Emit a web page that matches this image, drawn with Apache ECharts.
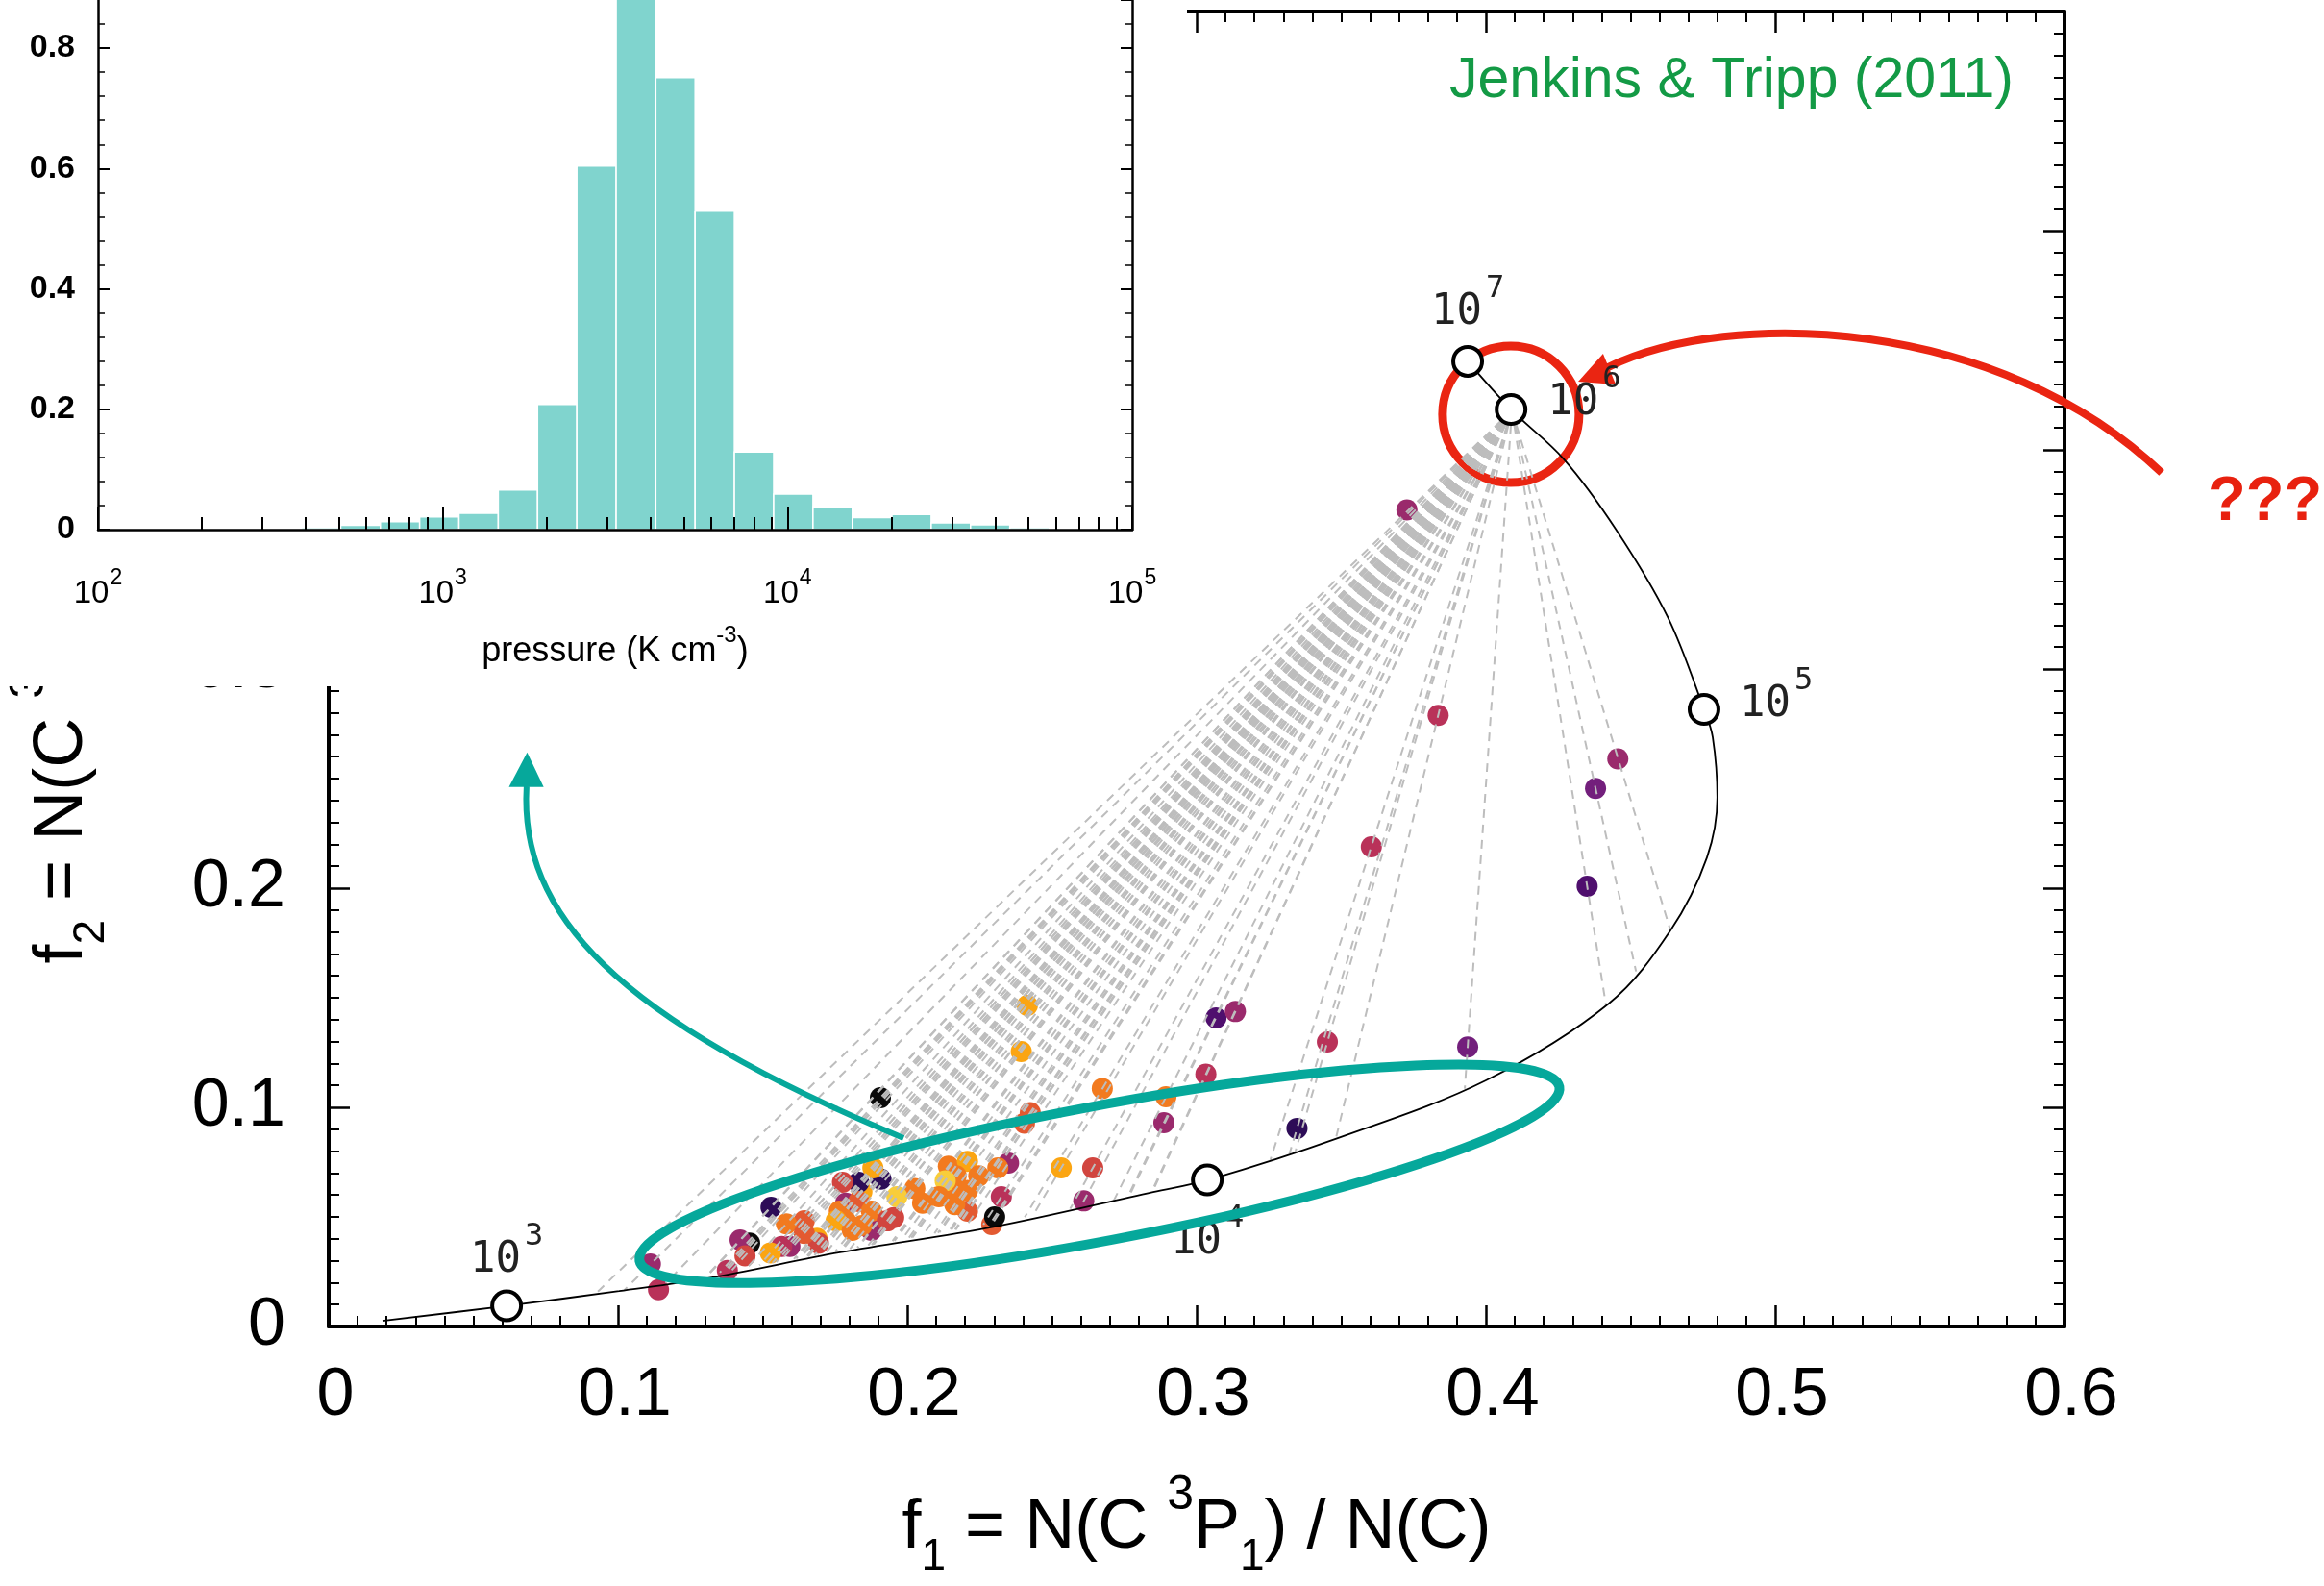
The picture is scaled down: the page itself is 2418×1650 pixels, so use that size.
<!DOCTYPE html>
<html><head><meta charset="utf-8">
<script src="https://cdn.jsdelivr.net/npm/echarts@6/dist/echarts.min.js"></script>
<style>html,body{margin:0;padding:0;background:#fff}#c{width:2418px;height:1650px}</style>
</head><body><div id="c"></div>
<script>
// ---------------- DATA ----------------
// Observed sight lines: f1, f2, colour class, end of mixing line on the model track
const pointsF1 = [0.3727,0.3835,0.4456,0.4379,0.3604,0.4350,0.3067,0.3134,0.3452,0.3937,0.3032,0.2674,0.2894,0.2887,0.3347,0.2415,0.2394,0.2425,0.2405,0.2532,0.2641,0.2350,0.2325,0.2610,0.2292,0.2302,0.1907,0.2208,0.2164,0.2142,0.2208,0.2313,0.2247,0.2169,0.2153,0.2208,0.2131,0.2109,0.2053,0.2026,0.1964,0.1953,0.1887,0.1876,0.1843,0.1909,0.1832,0.1881,0.1776,0.1787,0.1832,0.1765,0.1787,0.1754,0.1810,0.1843,0.1876,0.1931,0.1644,0.1582,0.1688,0.1693,0.1644,0.1594,0.1566,0.1527,0.1529,0.1455,0.1422,0.1439,0.1378,0.1112,0.1140];
const pointsF2 = [0.3726,0.2788,0.2590,0.2455,0.2189,0.2009,0.1408,0.1437,0.1298,0.1275,0.1151,0.1086,0.1048,0.0930,0.0904,0.1465,0.1254,0.0976,0.0928,0.0724,0.0724,0.0746,0.0592,0.0573,0.0465,0.0500,0.1044,0.0526,0.0556,0.0731,0.0753,0.0724,0.0687,0.0687,0.0600,0.0621,0.0665,0.0592,0.0563,0.0629,0.0592,0.0497,0.0497,0.0439,0.0614,0.0672,0.0658,0.0724,0.0658,0.0563,0.0570,0.0526,0.0482,0.0482,0.0439,0.0461,0.0526,0.0482,0.0482,0.0468,0.0402,0.0380,0.0424,0.0365,0.0365,0.0336,0.0544,0.0380,0.0395,0.0322,0.0256,0.0285,0.0168];
const pointClass = [4,5,4,3,5,2,2,4,5,3,5,8,8,4,1,9,9,7,7,9,6,4,5,4,7,0,0,7,8,8,9,8,8,8,8,8,10,8,8,8,10,6,7,4,9,1,1,9,6,4,7,8,8,9,8,8,8,6,7,8,9,6,7,4,5,9,1,0,4,6,5,4,5];
const lineEndF1 = [0.0920,0.3481,0.4638,0.4519,0.3255,0.4415,0.2765,0.2847,0.3341,0.3927,0.2844,0.2406,0.2713,0.2759,0.3321,0.1717,0.1884,0.2145,0.2151,0.2434,0.2563,0.2200,0.2263,0.2599,0.2296,0.2288,0.1352,0.2165,0.2094,0.1949,0.2018,0.2168,0.2111,0.2014,0.2053,0.2106,0.1982,0.2005,0.1956,0.1877,0.1827,0.1881,0.1802,0.1830,0.1658,0.1696,0.1608,0.1616,0.1534,0.1628,0.1679,0.1629,0.1691,0.1651,0.1751,0.1775,0.1767,0.1865,0.1514,0.1448,0.1632,0.1655,0.1561,0.1547,0.1513,0.1489,0.1313,0.1364,0.1310,0.1394,0.1375,0.1022,0.1165];
const lineEndF2 = [0.0146,0.0856,0.1807,0.1620,0.0760,0.1466,0.0590,0.0613,0.0796,0.1085,0.0612,0.0499,0.0573,0.0584,0.0788,0.0334,0.0374,0.0437,0.0438,0.0506,0.0537,0.0450,0.0465,0.0546,0.0473,0.0471,0.0246,0.0442,0.0425,0.0390,0.0406,0.0442,0.0429,0.0405,0.0415,0.0427,0.0398,0.0403,0.0391,0.0372,0.0360,0.0373,0.0354,0.0361,0.0320,0.0329,0.0308,0.0310,0.0290,0.0313,0.0325,0.0313,0.0328,0.0318,0.0342,0.0348,0.0346,0.0370,0.0285,0.0270,0.0314,0.0319,0.0297,0.0293,0.0285,0.0279,0.0237,0.0249,0.0236,0.0257,0.0252,0.0166,0.0197];
// high-pressure apex of the mixing lines (10^6)
const apexF1 = 0.409, apexF2 = 0.418;
// model track (low -> high pressure)
const trackF1 = [0.0186,0.0615,0.1004,0.131,0.1767,0.2302,0.285,0.3037,0.349,0.400,0.4425,0.4638,0.4764,0.480,0.4784,0.4754,0.463,0.445,0.4269,0.409,0.3937];
const trackF2 = [0.0026,0.0094,0.0162,0.022,0.0338,0.0456,0.0614,0.0667,0.086,0.1123,0.1474,0.1807,0.214,0.2414,0.2689,0.2816,0.3233,0.3636,0.3958,0.418,0.4404];
// pressure markers on the track
const markF1 = [0.0615,0.3037,0.4754,0.4087,0.3937];
const markF2 = [0.0094,0.0669,0.2816,0.4184,0.4404];
const markExp = ['3','4','5','6','7'];
// inset histogram (log10 pressure bin edges, frequency)
const histEdges = [2.020,2.134,2.248,2.362,2.476,2.590,2.704,2.819,2.933,3.047,3.161,3.275,3.389,3.503,3.618,3.732,3.846,3.960,4.074,4.188,4.303,4.417,4.531,4.645,4.760,4.874];
const histFreq  = [0.002,0,0,0,0,0.003,0.007,0.013,0.021,0.027,0.066,0.208,0.604,0.97,0.751,0.529,0.129,0.059,0.038,0.020,0.025,0.011,0.008,0.003,0.002];
const insetMinorP = [200,300,400,500,600,700,800,900,2000,3000,4000,5000,6000,7000,8000,9000,20000,30000,40000,50000,60000,70000,80000,90000];
const insetMinorFreq = [0.04,0.08,0.12,0.16,0.24,0.28,0.32,0.36,0.44,0.48,0.52,0.56,0.64,0.68,0.72,0.76,0.84];
// annotations (data-space anchors)
const ellipseCenter = [0.2664,0.0697];
const tealArrow = [[0.1987,0.0860],[0.0990,0.1404],[0.0658,0.1886],[0.0684,0.2465],[0.0686,0.2620],[0.0623,0.2462],[0.0743,0.2462]];
const redArrow = [[0.4422,0.4377],[0.4844,0.4649],[0.5774,0.4605],[0.6336,0.3895],[0.4319,0.4311],[0.4405,0.4439],[0.4449,0.4298]];
const redRingCenter = [0.4086,0.4162];

// ---------------- STYLE ----------------
const palette = ['#0a0a0a','#2d0c57','#4f0f6e','#731f7c','#9a2a6c','#b93259','#d1453f','#e35a31','#f27a1f','#fba512','#f8cd3a'];
const TEAL = '#06a89b', RED = '#ea2512';
const F = 'Liberation Sans';
const titleRich = {
  n:{fontSize:72,fontFamily:F,color:'#000',padding:[0,0,17,0],verticalAlign:'bottom'},
  sub:{fontSize:46,fontFamily:F,color:'#000',verticalAlign:'bottom'},
  sup:{fontSize:50,fontFamily:F,color:'#000',padding:[0,0,62,0],verticalAlign:'bottom'}
};
const markRich = {
  a:{fontSize:44,fontFamily:'DejaVu Sans Mono',color:'#222',verticalAlign:'bottom'},
  s:{fontSize:32,fontFamily:'DejaVu Sans Mono',color:'#222',padding:[0,0,31,4],verticalAlign:'bottom'}
};
const markLabelPos = [
  {position:'top',distance:8},
  {position:'bottom',distance:7},
  {position:'right',distance:20,offset:[0,-14]},
  {position:'right',distance:21,offset:[0,-16]},
  {position:'top',distance:11}
];
function mainAxis(extra){
  return Object.assign({
    gridIndex:0,type:'value',min:0,max:0.6,interval:0.1,z:1,
    axisLine:{onZero:false,lineStyle:{color:'#000',width:4}},
    axisTick:{inside:true,length:22,lineStyle:{color:'#000',width:2.5}},
    minorTick:{show:true,splitNumber:10,length:11,lineStyle:{color:'#000',width:2}},
    splitLine:{show:false},minorSplitLine:{show:false}
  },extra);
}
function insetY(extra){
  return Object.assign({gridIndex:1,type:'value',min:0,max:0.88,interval:0.2,z:10,
    axisLine:{onZero:false,lineStyle:{color:'#000',width:2.5}},
    axisTick:{inside:true,length:12,lineStyle:{color:'#000',width:2}},
    splitLine:{show:false}},extra);
}
function insetYMinor(pos){
  return {gridIndex:1,type:'value',min:0,max:0.88,position:pos,z:10,
    axisLine:{show:false,onZero:false},axisLabel:{show:false},splitLine:{show:false},
    axisTick:{inside:true,length:7,lineStyle:{color:'#000',width:1.5},customValues:insetMinorFreq}};
}

const chart = echarts.init(document.getElementById('c'),null,{renderer:'canvas'});
const option = {
  animation:false,
  textStyle:{fontFamily:F},
  title:[
    {text:'Jenkins & Tripp (2011)',right:323,top:55,padding:0,textStyle:{color:'#139a45',fontSize:59,fontWeight:'normal',fontFamily:F}},
    {text:'???',left:2297,top:491,padding:0,textStyle:{color:'#e8210f',fontSize:65,fontWeight:'bold',fontFamily:"'Liberation Sans Narrow','Liberation Sans'"}}
  ],
  graphic:{elements:[{type:'rect',shape:{x:0,y:0,width:1235,height:714},style:{fill:'#fff'},z:8,silent:true}]},
  grid:[
    {left:342,top:12,width:1806,height:1368,outerBoundsMode:'none'},
    {left:102,top:0,width:1076,height:551,outerBoundsMode:'none'}
  ],
  xAxis:[
    mainAxis({position:'bottom',
      axisLabel:{fontSize:70,color:'#000',margin:38,padding:[0,0,0,14]},
      name:'{n|f}{sub|1}{n| = N(C }{sup|3}{n|P}{sub|1}{n|) / N(C)}',
      nameLocation:'middle',nameGap:151,nameTextStyle:{rich:titleRich}}),
    mainAxis({position:'top',axisLabel:{show:false}}),
    {gridIndex:1,type:'value',min:2,max:5,interval:1,position:'bottom',z:10,
      axisLine:{onZero:false,lineStyle:{color:'#000',width:2.5}},
      axisTick:{inside:true,length:24,lineStyle:{color:'#000',width:2}},
      splitLine:{show:false},
      axisLabel:{margin:39,formatter:v=>'{a|10}{s|'+v+'}',
        rich:{a:{fontSize:33,fontFamily:F,color:'#000',verticalAlign:'bottom'},
              s:{fontSize:23,fontFamily:F,color:'#000',padding:[0,0,21,1],verticalAlign:'bottom'}}},
      name:'{n|pressure (K cm}{s|-3}{n|)}',nameLocation:'middle',nameGap:98,
      nameTextStyle:{rich:{n:{fontSize:36,fontFamily:F,color:'#000',verticalAlign:'bottom'},
                           s:{fontSize:24,fontFamily:F,color:'#000',padding:[0,0,23,0],verticalAlign:'bottom'}}}},
    {gridIndex:1,type:'value',min:2,max:5,position:'bottom',z:10,
      axisLine:{show:false,onZero:false},axisLabel:{show:false},splitLine:{show:false},
      axisTick:{inside:true,length:13,lineStyle:{color:'#000',width:2},customValues:insetMinorP.map(p=>Math.log10(p))}}
  ],
  yAxis:[
    mainAxis({position:'left',
      axisLabel:{fontSize:70,color:'#000',margin:45},
      name:'{n|f}{sub|2}{n| = N(C }{sup|3}{n|P}{sub|2}{n|) / N(C)}',
      nameLocation:'middle',nameGap:224,nameRotate:90,nameTextStyle:{rich:titleRich}}),
    mainAxis({position:'right',axisLabel:{show:false}}),
    insetY({position:'left',axisLabel:{fontSize:34,fontWeight:'bold',color:'#000',margin:24,showMaxLabel:false}}),
    insetY({position:'right',axisLabel:{show:false}}),
    insetYMinor('left'),
    insetYMinor('right')
  ],
  series:[
    // red ring around 10^6
    {type:'custom',xAxisIndex:0,yAxisIndex:0,z:2,silent:true,data:[[0,0]],
      renderItem:(p,api)=>{const c=api.coord(redRingCenter);
        return {type:'circle',shape:{cx:c[0],cy:c[1],r:71},style:{fill:'none',stroke:RED,lineWidth:9}};}},
    // observed points
    {type:'scatter',xAxisIndex:0,yAxisIndex:0,z:2,symbol:'circle',symbolSize:22,silent:true,
      data:pointsF1.map((x,i)=>[x,pointsF2[i],pointClass[i]]),
      itemStyle:{opacity:1,color:p=>palette[p.data[2]]}},
    // mixing lines
    {type:'lines',coordinateSystem:'cartesian2d',xAxisIndex:0,yAxisIndex:0,z:3,silent:true,
      data:pointsF1.map((x,i)=>({coords:[[apexF1,apexF2],[lineEndF1[i],lineEndF2[i]]]})),
      lineStyle:{color:'#bdbdbd',width:2,type:[9,7],opacity:1,curveness:0}},
    // red arrow (below the marker labels)
    {type:'custom',xAxisIndex:0,yAxisIndex:0,z:3,silent:true,data:[[0,0]],
      renderItem:(p,api)=>{
        const a=redArrow.map(q=>api.coord(q));
        return {type:'group',children:[
          {type:'bezierCurve',shape:{x1:a[0][0],y1:a[0][1],cpx1:a[1][0],cpy1:a[1][1],cpx2:a[2][0],cpy2:a[2][1],x2:a[3][0],y2:a[3][1]},style:{fill:'none',stroke:RED,lineWidth:8}},
          {type:'polygon',shape:{points:[a[4],a[5],a[6]]},style:{fill:RED}}
        ]};}},
    // model track
    {type:'line',xAxisIndex:0,yAxisIndex:0,z:4,smooth:0.35,showSymbol:false,silent:true,
      data:trackF1.map((x,i)=>[x,trackF2[i]]),lineStyle:{color:'#000',width:1.8}},
    // pressure markers
    {type:'scatter',xAxisIndex:0,yAxisIndex:0,z:5,symbol:'circle',symbolSize:30,silent:true,
      itemStyle:{color:'#fff',borderColor:'#000',borderWidth:4,opacity:1},
      data:markF1.map((x,i)=>({value:[x,markF2[i]],
        label:Object.assign({show:true,formatter:'{a|10}{s|'+markExp[i]+'}',rich:markRich},markLabelPos[i])}))},
    // teal ellipse + arrow
    {type:'custom',xAxisIndex:0,yAxisIndex:0,z:6,silent:true,data:[[0,0]],
      renderItem:(p,api)=>{
        const c=api.coord(ellipseCenter);
        const a=tealArrow.map(q=>api.coord(q));
        return {type:'group',children:[
          {type:'ellipse',x:c[0],y:c[1],rotation:10.7*Math.PI/180,shape:{cx:0,cy:0,rx:487,ry:70},style:{fill:'none',stroke:TEAL,lineWidth:10}},
          {type:'bezierCurve',shape:{x1:a[0][0],y1:a[0][1],cpx1:a[1][0],cpy1:a[1][1],cpx2:a[2][0],cpy2:a[2][1],x2:a[3][0],y2:a[3][1]},style:{fill:'none',stroke:TEAL,lineWidth:6}},
          {type:'polygon',shape:{points:[a[4],a[5],a[6]]},style:{fill:TEAL}}
        ]};}},
    // inset histogram
    {type:'custom',xAxisIndex:2,yAxisIndex:2,z:9,silent:true,
      data:histFreq.map((h,i)=>[histEdges[i],histEdges[i+1],h]),
      renderItem:(p,api)=>{
        const p0=api.coord([api.value(0),api.value(2)]);
        const p1=api.coord([api.value(1),0]);
        return {type:'rect',shape:{x:p0[0],y:p0[1],width:p1[0]-p0[0],height:p1[1]-p0[1]},
          style:{fill:'#80d4ce',stroke:'#fff',lineWidth:1.5}};}}
  ]
};
chart.setOption(option);
</script></body></html>
